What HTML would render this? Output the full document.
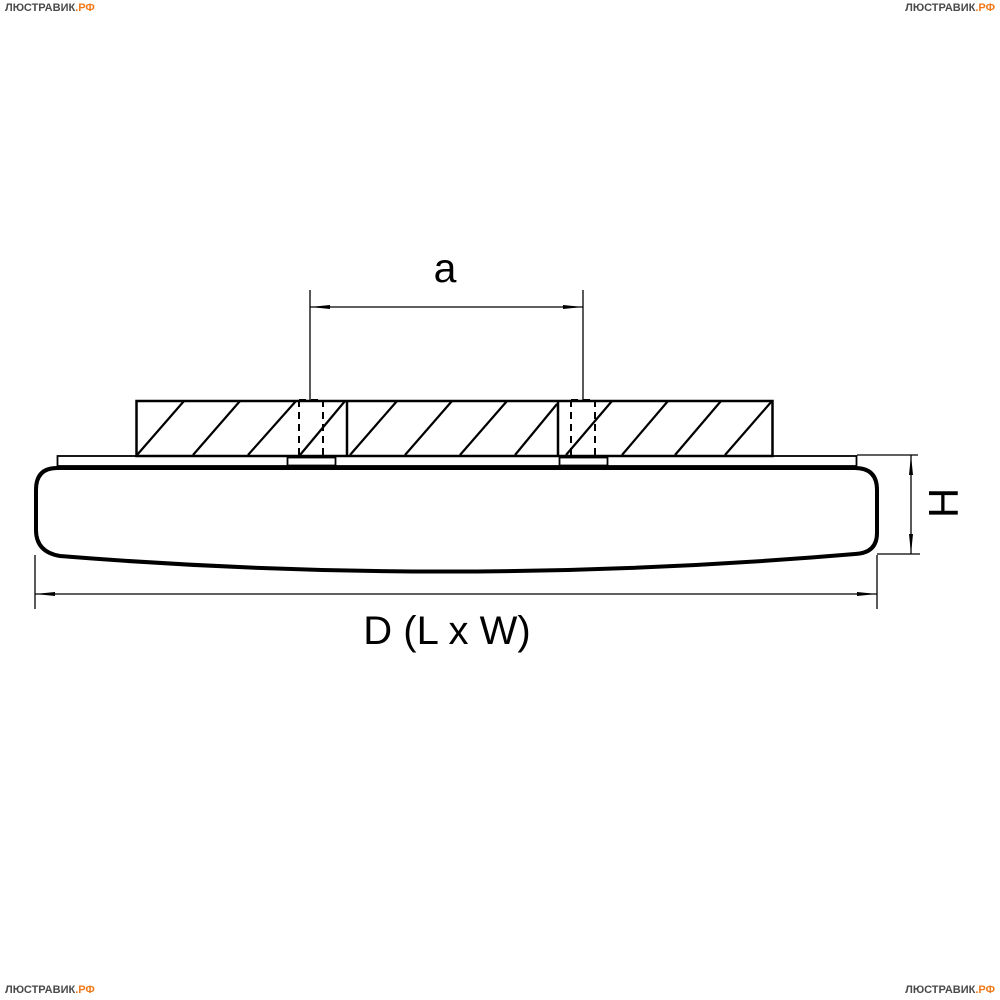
<!DOCTYPE html>
<html><head><style>
html,body{margin:0;padding:0;background:#fff;width:1000px;height:1000px;overflow:hidden}
.wm{position:absolute;font-family:"Liberation Sans",sans-serif;font-weight:bold;font-size:11px;color:#4a4a4a}
.wm span{color:#f07a1a}
</style></head><body>
<div class="wm" style="left:5px;top:2px">ЛЮСТРАВИК<span>.РФ</span></div>
<div class="wm" style="right:5px;top:2px">ЛЮСТРАВИК<span>.РФ</span></div>
<div class="wm" style="left:5px;top:984px">ЛЮСТРАВИК<span>.РФ</span></div>
<div class="wm" style="right:5px;top:984px">ЛЮСТРАВИК<span>.РФ</span></div>
<svg width="1000" height="1000" style="position:absolute;left:0;top:0" xmlns="http://www.w3.org/2000/svg">
<defs>
<marker id="ar" viewBox="0 0 20 6" refX="20" refY="3" markerWidth="20" markerHeight="6" markerUnits="userSpaceOnUse" orient="auto-start-reverse"><path d="M0,1 L20,3 L0,5 Z" fill="#000"/></marker>
</defs>
<g stroke="#000" fill="none">
<rect x="136.5" y="401" width="636" height="55" stroke-width="2.5"/>
<line x1="347" y1="401" x2="347" y2="456" stroke-width="2.5"/>
<line x1="558" y1="401" x2="558" y2="456" stroke-width="2.5"/>
<g stroke-width="2.2">
<line x1="137" y1="455" x2="184" y2="401"/>
<line x1="193" y1="455" x2="240" y2="401"/>
<line x1="248" y1="455" x2="296" y2="401"/>
<line x1="300" y1="455" x2="345" y2="401"/>
<line x1="350" y1="455" x2="397" y2="401"/>
<line x1="405" y1="455" x2="452" y2="401"/>
<line x1="460" y1="455" x2="507" y2="401"/>
<line x1="515" y1="455" x2="557" y2="404"/>
<line x1="566" y1="455" x2="612" y2="401"/>
<line x1="622" y1="455" x2="668" y2="401"/>
<line x1="675" y1="455" x2="721" y2="401"/>
<line x1="725" y1="455" x2="772" y2="401"/>
</g>
<g stroke-width="2" stroke-dasharray="7,5">
<line x1="299" y1="400" x2="299" y2="466"/>
<line x1="323" y1="400" x2="323" y2="466"/>
<line x1="299" y1="400" x2="323" y2="400"/>
<line x1="571" y1="400" x2="571" y2="466"/>
<line x1="595" y1="400" x2="595" y2="466"/>
<line x1="571" y1="400" x2="595" y2="400"/>
</g>
<rect x="57.5" y="456" width="799" height="10" stroke-width="1.8"/>
<rect x="287.5" y="457.5" width="48" height="8" stroke-width="1.8" fill="#fff"/>
<rect x="559.5" y="457.5" width="48" height="8" stroke-width="1.8" fill="#fff"/>
<line x1="287" y1="467" x2="336" y2="467" stroke-width="3"/>
<line x1="559" y1="467" x2="608" y2="467" stroke-width="3"/>
<path d="M57,468 L855,468 Q877,468 877,490 L877,533 Q877,553 855,554 Q456,588 60,556 Q36,552 36,530 L36,490 Q36,468 57,468 Z" stroke-width="4"/>
<g stroke-width="1.3">
<line x1="310" y1="290" x2="310" y2="402"/>
<line x1="583" y1="290" x2="583" y2="402"/>
<line x1="310" y1="307" x2="583" y2="307" marker-start="url(#ar)" marker-end="url(#ar)"/>
<line x1="35" y1="555" x2="35" y2="609"/>
<line x1="877" y1="555" x2="877" y2="609"/>
<line x1="35" y1="594" x2="877" y2="594" marker-start="url(#ar)" marker-end="url(#ar)"/>
<line x1="857" y1="455" x2="918" y2="455"/>
<line x1="877" y1="554" x2="920" y2="554"/>
<line x1="911" y1="455" x2="911" y2="554" marker-start="url(#ar)" marker-end="url(#ar)"/>
</g>
</g>
<g font-family="Liberation Sans, sans-serif" fill="#000">
<text x="445" y="282" font-size="41" text-anchor="middle">a</text>
<text x="447" y="644" font-size="40" text-anchor="middle">D (L x W)</text>
<text x="0" y="0" font-size="42" text-anchor="middle" transform="translate(958,503) rotate(-90)">H</text>
</g>
</svg>
</body></html>
